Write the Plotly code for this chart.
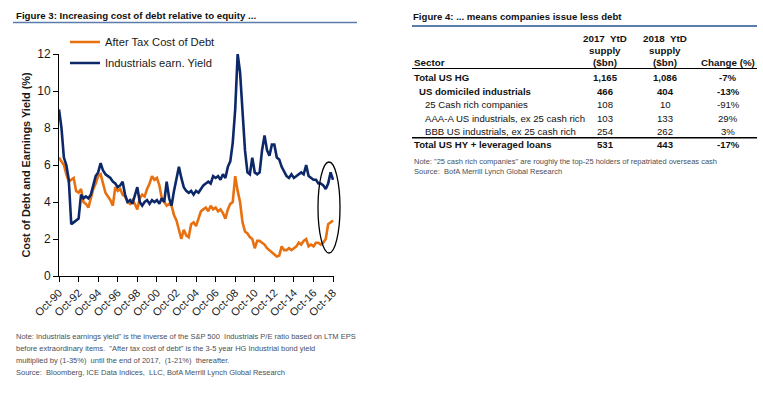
import plotly.graph_objects as go
import pandas as pd

# ---------------- data ----------------
dates = pd.date_range("1990-10-01", periods=113, freq="QS-OCT")

after_tax_cost = [
    6.4, 6.2, 6.0, 5.5, 5.1, 5.2, 5.3, 4.6, 4.5, 4.7,
    4.0, 3.9, 3.7, 4.2, 4.7, 5.0, 5.4, 5.5, 5.0, 4.5,
    4.3, 4.1, 3.8, 4.8, 4.6, 4.7, 4.4, 4.3, 4.0, 3.9,
    4.1, 3.9, 3.6, 4.2, 4.4, 4.3, 4.7, 5.0, 5.4, 5.2,
    5.3, 4.9, 4.2, 4.0, 3.8, 3.9, 3.8, 3.3, 3.0, 2.5,
    2.0, 2.5, 2.2, 2.1, 2.8, 2.9, 2.7, 3.1, 3.5, 3.6,
    3.7, 3.5, 3.8, 3.6, 3.7, 3.5, 3.6, 3.4, 3.1, 3.6,
    3.9, 4.0, 5.4, 4.6, 4.0, 2.9, 2.4, 2.3, 2.1, 2.0,
    1.5, 1.9, 1.9, 1.8, 1.7, 1.5, 1.4, 1.3, 1.2, 1.05,
    1.1, 1.6, 1.4, 1.4, 1.5, 1.4, 1.5, 1.6, 1.8, 1.7,
    1.9, 2.0, 1.6, 1.7, 1.6, 1.8, 1.8, 1.7, 1.8, 2.0,
    2.8, 2.9, 3.0,
]

earn_yield = [
    9.0, 8.0, 6.4, 6.0, 5.2, 2.8, 2.9, 3.0, 3.1, 4.4,
    4.2, 4.3, 4.2, 4.4, 4.9, 5.4, 5.6, 6.1, 5.7, 5.5,
    5.4, 5.3, 5.1, 5.0, 4.8, 4.9, 5.1, 4.4, 4.0, 4.1,
    3.9, 4.3, 4.8, 4.0, 3.8, 4.0, 4.1, 3.9, 4.1, 4.0,
    4.1, 3.9, 4.2, 4.0, 5.1, 4.2, 3.8, 4.6, 5.3, 5.9,
    5.3, 4.8, 4.6, 4.5, 4.6, 4.4, 4.6, 4.5, 4.7, 4.9,
    5.0, 5.1, 5.0, 5.4, 5.3, 5.4, 5.2, 5.5, 5.3, 5.9,
    6.2, 7.2, 9.0, 12.0, 11.0, 9.0, 6.8, 5.6, 5.5, 6.4,
    5.6, 5.5, 5.6, 6.8, 7.6, 6.8, 6.5, 7.1, 7.1, 6.4,
    6.3, 5.9, 5.6, 5.4, 5.3, 5.5, 5.3, 5.4, 5.5, 5.6,
    5.5, 6.0, 5.4, 5.3, 5.2, 5.2, 5.0, 5.0, 4.9, 4.7,
    5.0, 5.6, 5.2,
]

tick_labels = ["Oct-90", "Oct-92", "Oct-94", "Oct-96", "Oct-98", "Oct-00", "Oct-02",
               "Oct-04", "Oct-06", "Oct-08", "Oct-10", "Oct-12", "Oct-14", "Oct-16", "Oct-18"]
tick_years = [1990, 1992, 1994, 1996, 1998, 2000, 2002, 2004, 2006, 2008, 2010, 2012, 2014, 2016, 2018]

# table data
table_title = "Figure 4: ... means companies issue less debt"
header_col1 = ["2017  YtD", "supply", "($bn)"]
header_col2 = ["2018  YtD", "supply", "($bn)"]
header_sector = "Sector"
header_change = "Change (%)"
sectors = ["Total US HG", "US domiciled industrials", "25 Cash rich companies",
           "AAA-A US industrials, ex 25 cash rich", "BBB US industrials, ex 25 cash rich",
           "Total US HY + leveraged loans"]
supply_2017 = ["1,165", "466", "108", "103", "254", "531"]
supply_2018 = ["1,086", "404", "10", "133", "262", "443"]
change_pct = ["-7%", "-13%", "-91%", "29%", "3%", "-17%"]
row_bold = [True, True, False, False, False, True]
row_indent = [0, 5, 11, 11, 11, 0]

left_title = "Figure 3: Increasing cost of debt relative to equity ..."
left_notes = [
    "Note: Industrials earnings yield\" is the inverse of the S&P 500  Industrials P/E ratio based on LTM EPS",
    "before extraordinary items.  \"After tax cost of debt\" is the 3-5 year HG Industrial bond yield",
    "multiplied by (1-35%)  until the end of 2017,  (1-21%)  thereafter.",
    "Source:  Bloomberg, ICE Data Indices,  LLC, BofA Merrill Lynch Global Research",
]
table_notes = [
    "Note: \"25 cash rich companies\" are roughly the top-25 holders of repatriated overseas cash",
    "Source:  BofA Merrill Lynch Global Research",
]

# ---------------- styling ----------------
ORANGE = "#E8700F"
NAVY = "#0C2868"
STEEL = "#5A7DAA"
FONT = "Liberation Sans, Arial, sans-serif"

W, H = 763, 394
L, R, T, B = 59, 334, 54, 276


def px(x):
    return (x - L) / (R - L)


def py(y):
    return (B - y) / (B - T)


fig = go.Figure()
fig.add_trace(go.Scatter(x=dates, y=after_tax_cost, mode="lines", name="After Tax Cost of Debt",
                         legendgroup="a", line=dict(color=ORANGE, width=2.6)))
fig.add_trace(go.Scatter(x=dates, y=earn_yield, mode="lines", name="Industrials earn. Yield",
                         legendgroup="b", line=dict(color=NAVY, width=2.6)))

tick_dates = [pd.Timestamp(year=y, month=10, day=1) for y in tick_years]

fig.update_layout(
    width=W, height=H,
    margin=dict(l=L, r=W - R, t=T, b=H - B, pad=0, autoexpand=False),
    paper_bgcolor="white", plot_bgcolor="white",
    font=dict(family=FONT, color="#1a1a1a"),
    showlegend=True,
    legend=dict(x=px(65), y=py(27.5), xanchor="left", yanchor="top",
                bgcolor="rgba(0,0,0,0)", font=dict(size=11.2, family=FONT, color="#1a1a1a"),
                itemwidth=30, tracegroupgap=2, traceorder="grouped"),
    xaxis=dict(type="date", range=["1990-10-01", "2018-11-05"], automargin=False,
               tickvals=tick_dates, ticktext=tick_labels, tickangle=-45,
               ticks="outside", ticklen=5, tickcolor="black",
               showline=True, linecolor="black", linewidth=1,
               showgrid=False, zeroline=False,
               tickfont=dict(size=11, family=FONT, color="#1a1a1a")),
    yaxis=dict(range=[0, 12], dtick=2, ticks="outside", ticklen=5, tickcolor="black",
               automargin=False,
               showline=True, linecolor="black", linewidth=1,
               showgrid=False, zeroline=False,
               tickfont=dict(size=12, family=FONT, color="#1a1a1a"),
               title=dict(text="<b>Cost of Debt and Earnings Yield (%)</b>",
                          font=dict(size=10.9, family=FONT, color="#1a1a1a"), standoff=4)),
)

shapes = []
annotations = []

# ellipse highlight
shapes.append(dict(type="circle", xref="paper", yref="paper",
                   x0=px(318), x1=px(340), y0=py(253), y1=py(162),
                   line=dict(color="black", width=1.3)))

# left title & underline
annotations.append(dict(text="<b>" + left_title + "</b>", xref="paper", yref="paper",
                        x=px(14), y=py(15.5), xanchor="left", yanchor="middle", showarrow=False,
                        font=dict(size=9.7, family=FONT, color="#111")))
shapes.append(dict(type="line", xref="paper", yref="paper", x0=px(13), x1=px(357),
                   y0=py(22.5), y1=py(22.5), line=dict(color=STEEL, width=1.5)))

# left notes
for i, t in enumerate(left_notes):
    annotations.append(dict(text=t, xref="paper", yref="paper", x=px(14), y=py(336 + 12 * i),
                            xanchor="left", yanchor="middle", showarrow=False,
                            font=dict(size=7.5, family=FONT, color="#4a4f5a")))

# right title & underline
annotations.append(dict(text="<b>" + table_title + "</b>", xref="paper", yref="paper",
                        x=px(411), y=py(16.5), xanchor="left", yanchor="middle", showarrow=False,
                        font=dict(size=9.6, family=FONT, color="#111")))
shapes.append(dict(type="line", xref="paper", yref="paper", x0=px(412), x1=px(757),
                   y0=py(26), y1=py(26), line=dict(color=STEEL, width=2)))

# table header
C1, C2, C3 = 605, 665, 728
HF = 9.8
RF = 9.6
for k, (a, b) in enumerate(zip(header_col1, header_col2)):
    yy = 38.5 + 12.2 * k
    for cx, t in ((C1, a), (C2, b)):
        annotations.append(dict(text="<b>" + t + "</b>", xref="paper", yref="paper",
                                x=px(cx), y=py(yy), xanchor="center", yanchor="middle",
                                showarrow=False, font=dict(size=HF, family=FONT, color="#111")))
annotations.append(dict(text="<b>" + header_sector + "</b>", xref="paper", yref="paper",
                        x=px(412), y=py(62.8), xanchor="left", yanchor="middle", showarrow=False,
                        font=dict(size=HF, family=FONT, color="#111")))
annotations.append(dict(text="<b>" + header_change + "</b>", xref="paper", yref="paper",
                        x=px(C3), y=py(62.8), xanchor="center", yanchor="middle", showarrow=False,
                        font=dict(size=HF, family=FONT, color="#111")))
shapes.append(dict(type="line", xref="paper", yref="paper", x0=px(412), x1=px(757),
                   y0=py(68.5), y1=py(68.5), line=dict(color="black", width=1.2)))

row_y = [77.5, 91, 104.5, 118, 131, 144.5]
for s, a, b, c, bold, ind, yy in zip(sectors, supply_2017, supply_2018, change_pct,
                                      row_bold, row_indent, row_y):
    def fmt(t):
        return "<b>" + t + "</b>" if bold else t
    annotations.append(dict(text=fmt(s), xref="paper", yref="paper", x=px(412 + ind), y=py(yy),
                            xanchor="left", yanchor="middle", showarrow=False,
                            font=dict(size=RF, family=FONT, color="#111")))
    for cx, t in ((C1, a), (C2, b), (C3, c)):
        annotations.append(dict(text=fmt(t), xref="paper", yref="paper", x=px(cx), y=py(yy),
                                xanchor="center", yanchor="middle", showarrow=False,
                                font=dict(size=RF, family=FONT, color="#111")))
shapes.append(dict(type="line", xref="paper", yref="paper", x0=px(412), x1=px(757),
                   y0=py(137.8), y1=py(137.8), line=dict(color="black", width=1.5)))

for i, t in enumerate(table_notes):
    annotations.append(dict(text=t, xref="paper", yref="paper", x=px(412), y=py(161.5 + 10 * i),
                            xanchor="left", yanchor="middle", showarrow=False,
                            font=dict(size=7.5, family=FONT, color="#4a4f5a")))

fig.update_layout(shapes=shapes, annotations=annotations)
fig.write_html("out.html", config={"displayModeBar": False},
               post_script="document.body.style.margin='0px';")
